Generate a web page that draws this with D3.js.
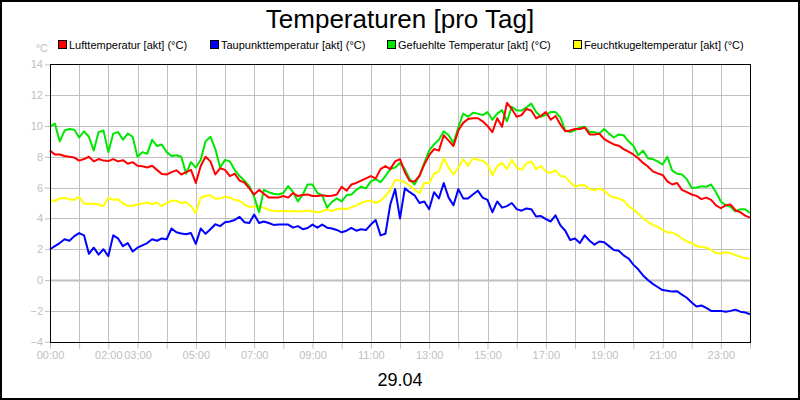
<!DOCTYPE html>
<html>
<head>
<meta charset="utf-8">
<script src="https://cdn.jsdelivr.net/npm/d3@7"></script>
<style>
  body { margin: 0; background: #fff; }
  svg { display: block; font-family: "Liberation Sans", Arial, sans-serif; }
</style>
</head>
<body>
<svg id="chart" width="800" height="400"></svg>
<script>
// readings every 10 minutes, 00:00 .. 24:00
var stepMinutes = 10;

var luft = [
  8.4, 8.15, 8.15, 8.05, 8.0, 7.95, 7.75, 7.85, 8.0, 7.7, 7.85, 7.75, 7.72, 7.85, 7.7, 7.78, 7.55, 7.65, 7.42, 7.38, 7.3, 7.42, 7.15, 6.88, 6.85,
  7.0, 7.12, 6.85, 7.0, 7.15, 6.3, 7.4, 8.0, 7.7, 6.85, 7.25, 7.15, 6.75, 6.9, 6.45, 6.33, 5.95, 5.55, 5.85, 5.6, 5.35, 5.35, 5.35, 5.45,
  5.35, 5.65, 5.45, 5.52, 5.55, 5.45, 5.45, 5.5, 5.45, 5.47, 5.55, 6.05, 5.8, 6.2, 6.3, 6.45, 6.6, 6.75, 6.6, 7.2, 7.4, 7.2, 7.7, 7.85,
  7.0, 6.42, 6.4, 6.75, 7.5, 8.1, 8.5, 8.4, 9.4, 9.05, 8.7, 9.7, 10.2, 10.45, 10.5, 10.5, 10.3, 10.0, 9.6, 10.5, 9.95, 11.5, 11.1, 10.6,
  10.7, 11.1, 11.0, 10.5, 10.66, 10.9, 10.4, 10.65, 10.1, 9.65, 9.7, 9.8, 9.8, 9.9, 9.45, 9.45, 9.5, 9.15, 8.97, 8.8, 8.72, 8.5, 8.33, 8.15,
  7.9, 7.6, 7.37, 7.05, 6.92, 6.82, 6.4, 6.2, 6.3, 5.85, 5.7, 5.55, 5.46, 5.25, 5.35, 5.2, 4.85, 4.66, 4.85, 4.9, 4.53, 4.4, 4.18, 4.05
];

var taupunkt = [
  2.0, 2.2, 2.4, 2.65, 2.55, 2.85, 3.05, 2.9, 1.7, 2.1, 1.65, 2.0, 1.55, 2.9, 2.7, 2.2, 2.4, 1.85, 2.1, 2.25, 2.4, 2.65, 2.55, 2.7, 2.65,
  3.35, 3.1, 3.02, 2.97, 3.05, 2.35, 3.35, 3.0, 3.3, 3.62, 3.5, 3.75, 3.8, 3.9, 4.1, 3.75, 3.7, 4.25, 3.7, 3.8, 3.7, 3.58, 3.6, 3.6,
  3.6, 3.4, 3.5, 3.3, 3.38, 3.6, 3.4, 3.6, 3.4, 3.35, 3.25, 3.1, 3.2, 3.38, 3.2, 3.3, 3.25, 3.6, 3.9, 2.9, 3.0, 4.9, 5.9, 4.0,
  5.95, 5.7, 5.5, 5.0, 5.1, 4.6, 5.7, 5.3, 6.3, 5.35, 4.85, 5.9, 5.3, 5.3, 5.55, 5.8, 5.35, 5.2, 4.4, 5.1, 4.7, 4.8, 5.0, 4.6,
  4.5, 4.65, 4.6, 4.12, 4.15, 3.95, 3.8, 4.2, 3.55, 3.2, 2.6, 2.7, 2.4, 2.9, 2.55, 2.3, 2.5, 2.45, 2.2, 1.95, 1.9, 1.6, 1.4, 1.0,
  0.7, 0.3, 0.0, -0.25, -0.45, -0.65, -0.7, -0.75, -0.72, -0.95, -1.15, -1.45, -1.72, -1.65, -1.8, -2.0, -2.0, -2.0, -2.05, -2.0, -1.92, -2.05, -2.1, -2.22
];

var gefuehlt = [
  9.95, 10.15, 9.0, 9.7, 9.8, 9.75, 9.25, 9.65, 9.3, 8.4, 9.6, 9.7, 8.3, 9.5, 9.6, 9.1, 9.5, 9.3, 8.0, 8.3, 8.2, 9.1, 8.7, 8.8, 8.3,
  8.05, 8.1, 8.0, 6.9, 7.65, 7.3, 7.8, 9.0, 9.3, 8.5, 7.3, 7.8, 7.7, 7.15, 6.75, 6.45, 6.1, 5.4, 4.4, 5.85, 5.7, 5.6, 5.55, 5.65,
  6.1, 5.7, 5.1, 5.55, 6.2, 6.2, 5.65, 5.5, 4.7, 5.07, 5.3, 5.1, 5.5, 5.55, 5.85, 6.05, 5.95, 6.4, 6.55, 6.35, 6.75, 7.2, 7.3, 7.6,
  7.2, 6.55, 6.2, 6.8, 7.6, 8.4, 8.8, 9.1, 9.65, 9.4, 8.9, 9.9, 10.8, 10.6, 10.85, 10.8, 10.7, 10.9, 10.4, 10.8, 11.03, 10.3, 11.25, 11.0,
  11.0, 11.2, 11.45, 10.9, 10.6, 10.72, 10.9, 10.9, 10.55, 9.7, 9.6, 9.73, 9.9, 9.95, 9.6, 9.6, 9.5, 9.8, 9.5, 9.25, 9.45, 9.4, 9.0, 8.72,
  8.1, 8.4, 7.9, 7.85, 7.7, 7.5, 8.0, 7.1, 6.9, 6.85, 6.55, 5.98, 6.0, 6.08, 6.05, 6.2, 5.7, 5.1, 4.85, 4.75, 4.45, 4.6, 4.6, 4.35
];

var feuchtkugel = [
  5.2, 5.12, 5.3, 5.32, 5.25, 5.2, 5.4, 4.95, 4.95, 4.97, 4.9, 4.8, 5.35, 5.2, 5.25, 4.97, 4.82, 4.82, 4.9, 4.97, 5.03, 4.92, 5.03, 4.8, 5.0,
  5.15, 5.15, 5.0, 5.05, 4.8, 4.35, 5.35, 5.45, 5.5, 5.27, 5.3, 5.4, 5.35, 5.2, 5.15, 4.9, 4.75, 4.75, 4.8, 4.68, 4.55, 4.5, 4.47, 4.5,
  4.45, 4.5, 4.45, 4.47, 4.52, 4.47, 4.38, 4.47, 4.58, 4.48, 4.6, 4.65, 4.6, 4.72, 4.85, 5.0, 5.12, 5.15, 5.0, 5.15, 5.45, 5.85, 6.5, 6.45,
  6.35, 6.12, 5.85, 5.65, 6.3, 6.3, 6.9, 7.05, 7.9, 7.3, 6.85, 7.3, 7.85, 7.4, 7.9, 7.8, 7.75, 7.5, 6.8, 7.4, 7.6, 7.2, 7.8, 7.3,
  7.15, 7.55, 7.7, 7.2, 7.4, 7.05, 6.95, 7.13, 6.75, 6.7, 6.35, 6.05, 6.15, 6.15, 5.9, 5.83, 5.95, 5.8, 5.5, 5.35, 5.3, 5.15, 4.8, 4.58,
  4.32, 4.0, 3.77, 3.58, 3.45, 3.25, 3.1, 3.08, 2.93, 2.7, 2.5, 2.4, 2.2, 2.15, 2.1, 1.97, 1.75, 1.72, 1.8, 1.75, 1.62, 1.5, 1.42, 1.4
];

var seriesNames = ['Lufttemperatur [akt] (°C)', 'Taupunkttemperatur [akt] (°C)', 'Gefuehlte Temperatur [akt] (°C)', 'Feuchtkugeltemperatur [akt] (°C)'];
var seriesColors = ['#ff0000', '#0000ff', '#00e600', '#ffff00'];
var seriesData = [luft, taupunkt, gefuehlt, feuchtkugel];

var yTicks = [-4, -2, 0, 2, 4, 6, 8, 10, 12, 14];
var xLabelHours = [0, 2, 3, 5, 7, 9, 11, 13, 15, 17, 19, 21, 23];
var dateLabel = '29.04';

(function() {
  var svg = d3.select('#chart');
  var grey = '#c0c0c0';

  // plot area
  var plotLeft = 50, plotRight = 750, plotTop = 64.3, plotBottom = 341.7;
  var xScale = d3.scaleLinear().domain([0, 24]).range([plotLeft, plotRight]);
  var yScale = d3.scaleLinear().domain([-4, 14]).range([plotBottom, plotTop]);

  // outer frame
  svg.append('rect').attr('x', 1).attr('y', 1).attr('width', 798).attr('height', 398)
    .attr('fill', '#fff').attr('stroke', '#000').attr('stroke-width', 2);

  svg.append('text').attr('x', 400).attr('y', 28).attr('text-anchor', 'middle')
    .attr('font-size', 26).attr('fill', '#000').text('Temperaturen [pro Tag]');

  // legend
  var legendX = [58, 210, 387, 573];
  seriesNames.forEach(function(name, i) {
    svg.append('rect').attr('x', legendX[i] + 0.5).attr('y', 40.5).attr('width', 8).attr('height', 8)
      .attr('fill', seriesColors[i]).attr('stroke', '#000');
    svg.append('text').attr('x', legendX[i] + 11).attr('y', 48.5).attr('font-size', 11)
      .attr('fill', '#000').text(name);
  });

  svg.append('text').attr('x', 48).attr('y', 52).attr('text-anchor', 'end')
    .attr('font-size', 11).attr('fill', grey).text('°C');

  // grid
  var grid = svg.append('g');
  grid.selectAll('.hgrid').data(yTicks).enter().append('line')
    .attr('x1', plotLeft).attr('x2', plotRight)
    .attr('y1', function(d) { return Math.round(yScale(d)) + 0.5; })
    .attr('y2', function(d) { return Math.round(yScale(d)) + 0.5; })
    .attr('stroke', grey).attr('stroke-width', function(d) { return d === 0 ? 2 : 1; });
  grid.selectAll('.vgrid').data(d3.range(1, 24)).enter().append('line')
    .attr('y1', plotTop).attr('y2', plotBottom)
    .attr('x1', function(d) { return Math.round(xScale(d)) + 0.5; })
    .attr('x2', function(d) { return Math.round(xScale(d)) + 0.5; })
    .attr('stroke', grey);

  // axes
  var yAxisG = svg.append('g').attr('transform', 'translate(' + plotLeft + ',0)')
    .call(d3.axisLeft(yScale).tickValues(yTicks).tickSize(5).tickPadding(2));
  var xAxisG = svg.append('g').attr('transform', 'translate(0,' + plotBottom + ')')
    .call(d3.axisBottom(xScale).tickValues(d3.range(0, 25)).tickSize(7).tickPadding(3)
      .tickFormat(function(h) {
        return xLabelHours.indexOf(h) >= 0 ? d3.format('02')(h) + ':00' : '';
      }));
  [yAxisG, xAxisG].forEach(function(g) {
    g.select('.domain').remove();
    g.selectAll('line').attr('stroke', grey);
    g.selectAll('text').attr('fill', grey).attr('font-size', 11)
      .attr('font-family', '"Liberation Sans", Arial, sans-serif');
  });

  // data lines (last legend entry drawn first)
  var line = d3.line()
    .x(function(d, i) { return xScale(i * stepMinutes / 60); })
    .y(function(d) { return yScale(d); });
  [3, 2, 1, 0].forEach(function(i) {
    svg.append('path').datum(seriesData[i])
      .attr('d', line).attr('fill', 'none')
      .attr('stroke', seriesColors[i]).attr('stroke-width', 2)
      .attr('stroke-linejoin', 'round');
  });

  // plot frame
  svg.append('rect').attr('x', plotLeft + 0.5).attr('y', Math.round(plotTop) + 0.5)
    .attr('width', plotRight - plotLeft).attr('height', Math.round(plotBottom) - Math.round(plotTop))
    .attr('fill', 'none').attr('stroke', '#000');

  svg.append('text').attr('x', 400).attr('y', 386).attr('text-anchor', 'middle')
    .attr('font-size', 18).attr('fill', '#000').text(dateLabel);
})();
</script>
</body>
</html>
